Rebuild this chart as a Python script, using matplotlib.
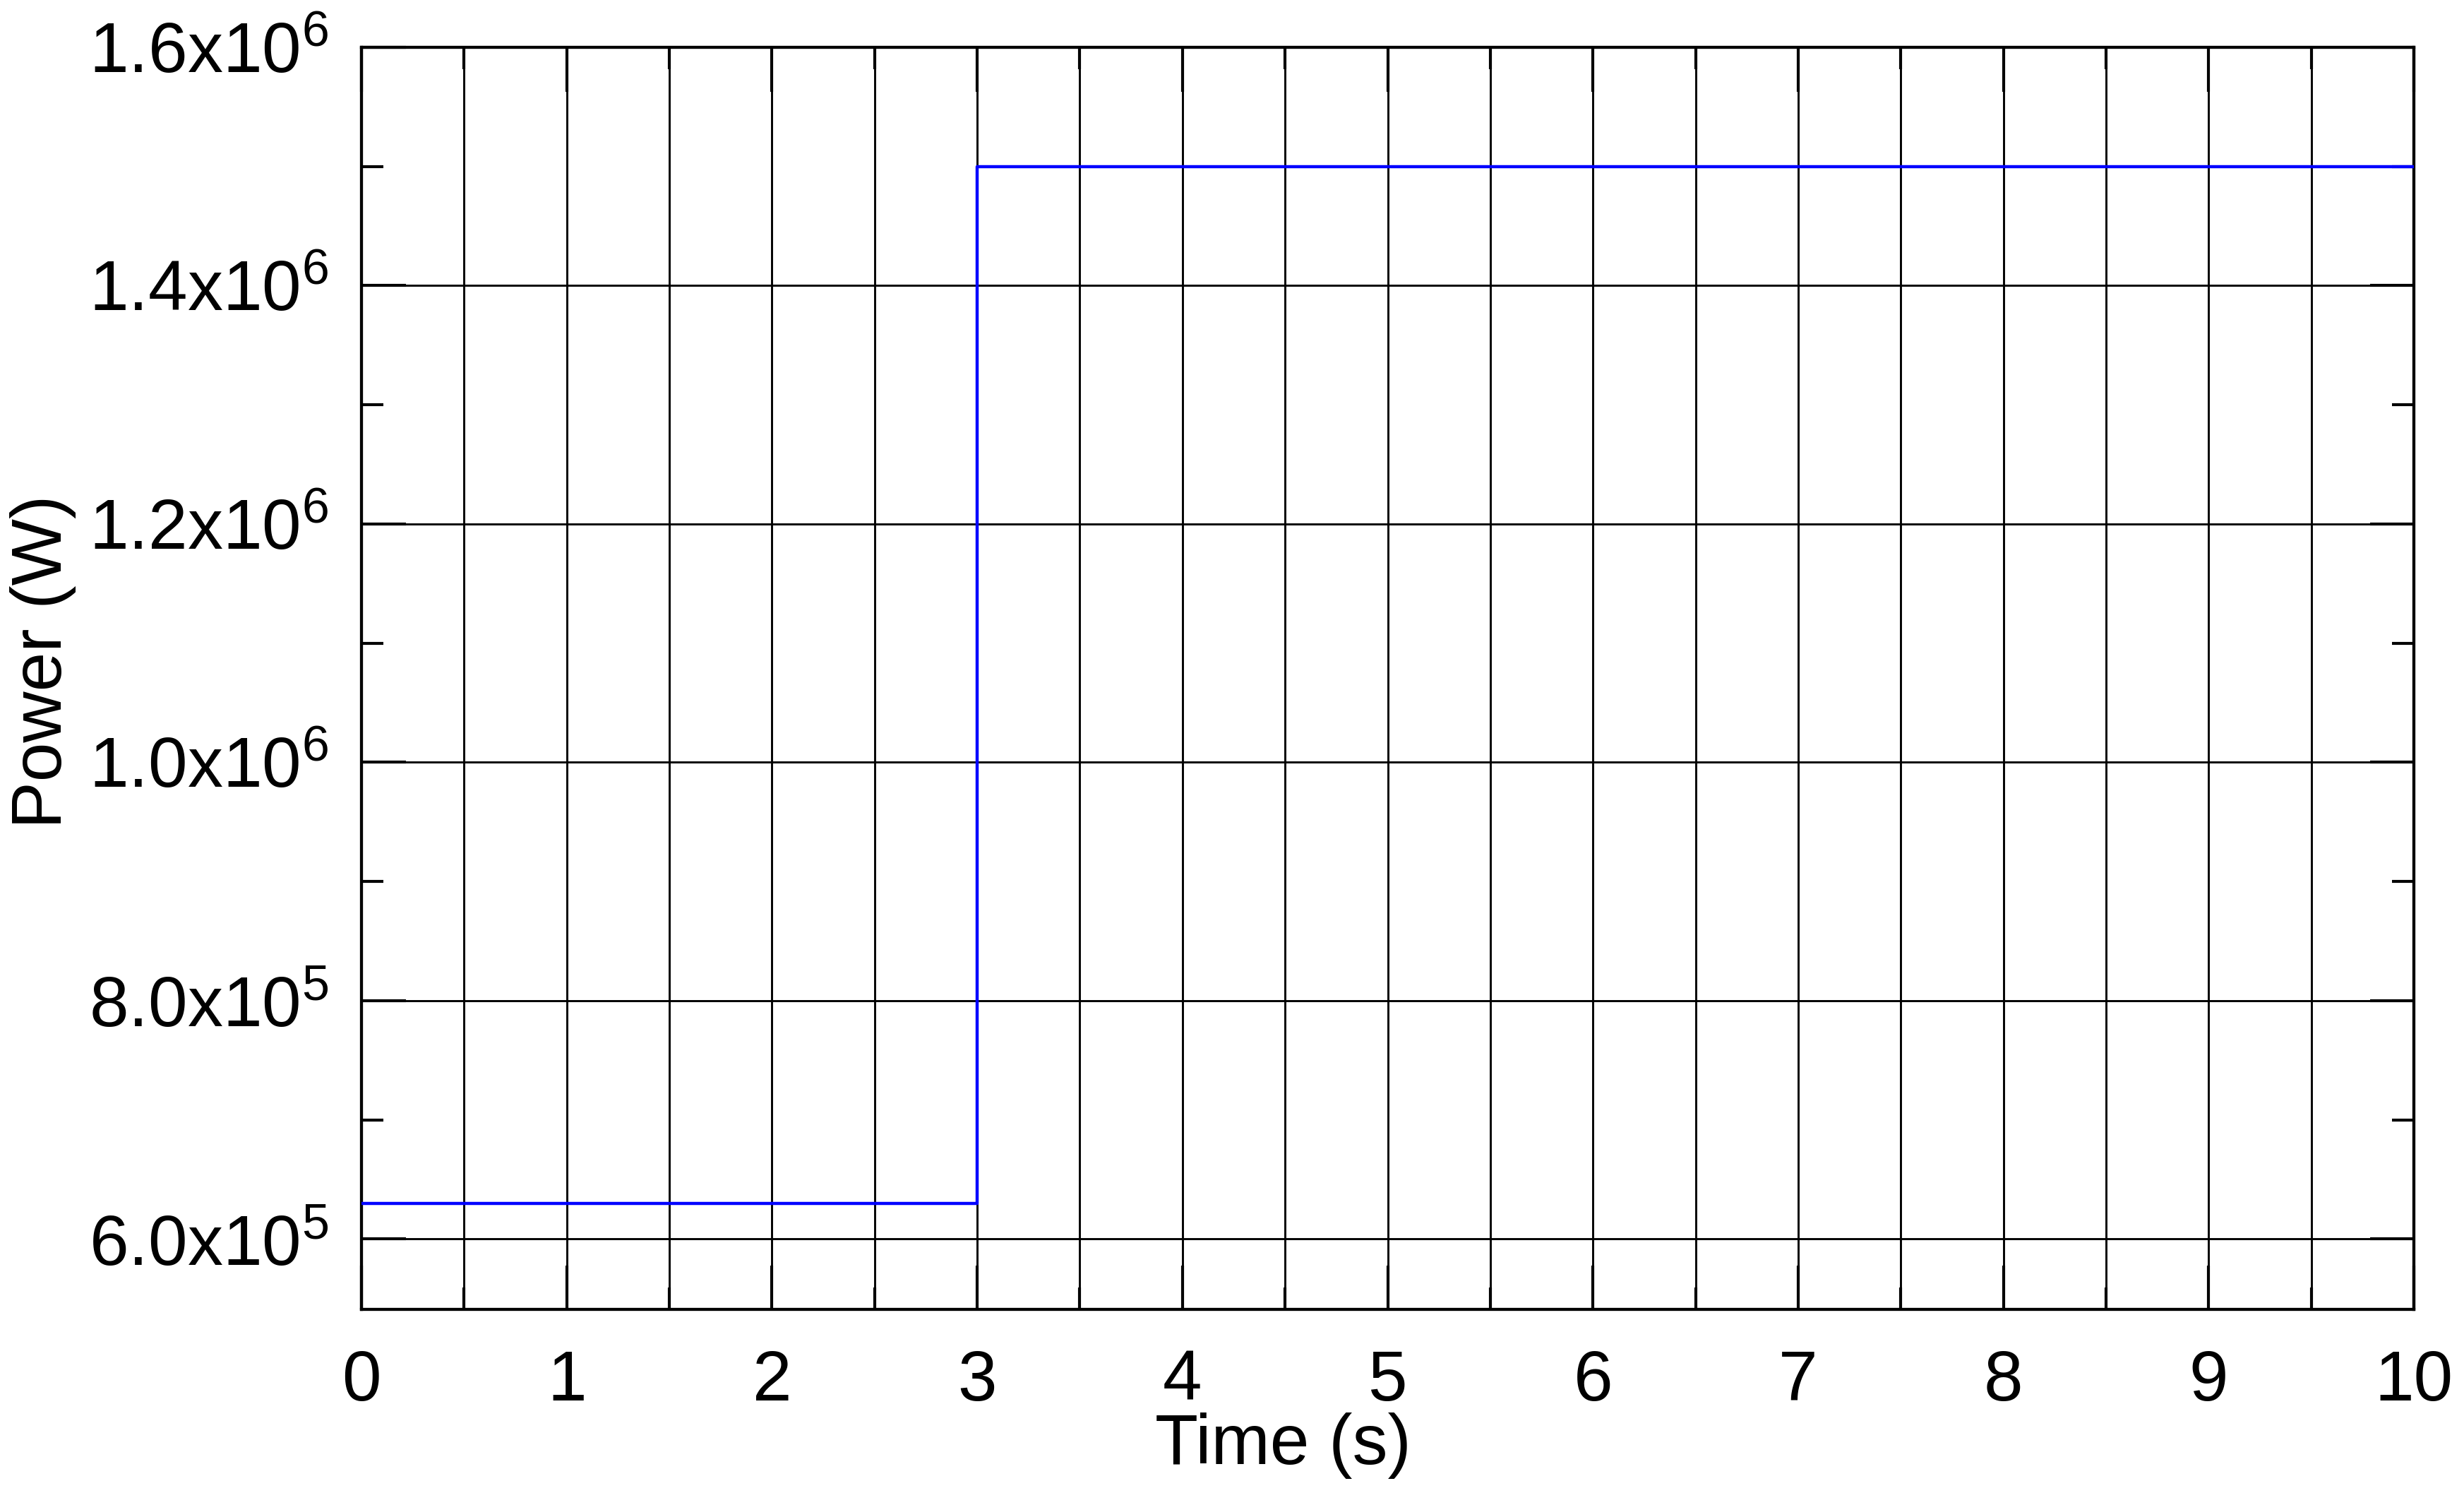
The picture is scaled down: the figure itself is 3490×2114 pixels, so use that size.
import matplotlib
matplotlib.use("Agg")
import matplotlib.pyplot as plt
from matplotlib.ticker import MultipleLocator, FuncFormatter

time_s = [0, 3, 3, 10]
power_w = [6.3e5, 6.3e5, 1.5e6, 1.5e6]
x_ticks = [0, 1, 2, 3, 4, 5, 6, 7, 8, 9, 10]
y_ticks = [6.0e5, 8.0e5, 1.0e6, 1.2e6, 1.4e6, 1.6e6]

plt.rcParams['font.family'] = ['Liberation Sans', 'DejaVu Sans']
plt.rcParams['mathtext.fontset'] = 'custom'
plt.rcParams['mathtext.rm'] = 'Liberation Sans'

FS = 72

fig = plt.figure(figsize=(34.9, 21.14), dpi=100)
ax = fig.add_axes([0.1467, 0.123, 0.833, 0.8453])

ax.plot(time_s, power_w, color='#0000ff', lw=3.2, zorder=3)

ax.set_xlim(0, 10)
ax.set_ylim(5.41e5, 1.6e6)
ax.set_xticks(x_ticks)
ax.xaxis.set_minor_locator(MultipleLocator(0.5))
ax.set_yticks(y_ticks)
ax.yaxis.set_minor_locator(MultipleLocator(1e5))

def yfmt(v, pos):
    e = 0
    m = v
    while abs(m) >= 10:
        m /= 10
        e += 1
    return r'$\mathregular{%.1fx10^{%d}}$' % (m, e)

ax.yaxis.set_major_formatter(FuncFormatter(yfmt))

ax.grid(True, which='major', axis='both', color='black', lw=2.1)
ax.grid(True, which='minor', axis='x', color='black', lw=2.1)

ax.tick_params(which='both', direction='in', top=True, right=True, width=3.0, labelsize=FS)
ax.tick_params(which='major', length=45)
ax.tick_params(which='minor', length=22)
ax.tick_params(axis='x', pad=40)
ax.tick_params(axis='y', pad=34)

for s in ax.spines.values():
    s.set_linewidth(3.1)

ax.set_xlabel('Time (s)', fontsize=FS)
ax.xaxis.set_label_coords(0.449, -0.1226)
ax.xaxis.label.set_va('baseline')
ax.set_ylabel('Power (W)', fontsize=FS)
ax.yaxis.set_label_coords(-0.155, 0.513)
ax.yaxis.label.set_va('center')

fig.savefig('out.png', dpi=100)
